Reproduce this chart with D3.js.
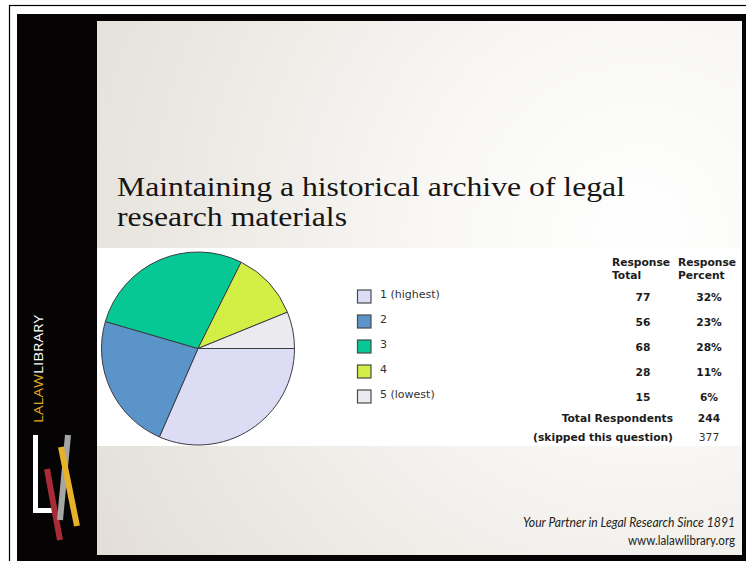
<!DOCTYPE html>
<html>
<head>
<meta charset="utf-8">
<script src="https://cdn.jsdelivr.net/npm/d3@7"></script>
<style>
  html, body { margin: 0; padding: 0; background: #ffffff; }
  svg { display: block; }
</style>
</head>
<body>
<svg id="chart" width="746" height="561"></svg>
<script>
// ---- Data ----
const titleLines = ["Maintaining a historical archive of legal", "research materials"];
const categories = ["1 (highest)", "2", "3", "4", "5 (lowest)"];
const responseTotals = [77, 56, 68, 28, 15];
const responsePercents = ["32%", "23%", "28%", "11%", "6%"];
const sliceColors = ["#dcdcf4", "#5b94c8", "#05c895", "#d3ee45", "#ebebef"];
const headerTotal = ["Response", "Total"];
const headerPercent = ["Response", "Percent"];
const summaryLabels = ["Total Respondents", "(skipped this question)"];
const summaryValues = ["244", "377"];
const footerLines = ["Your Partner in Legal Research Since 1891", "www.lalawlibrary.org"];

const svg = d3.select("#chart");
const defs = svg.append("defs");

// ---- Frame ----
svg.append("rect").attr("x", 9.5).attr("y", 5.5).attr("width", 760).attr("height", 600)
  .attr("fill", "none").attr("stroke", "#000").attr("stroke-width", 1.2);
svg.append("rect").attr("x", 17).attr("y", 14).attr("width", 740).attr("height", 560).attr("fill", "#050303");

const grad = defs.append("radialGradient").attr("id", "slideGrad")
  .attr("gradientUnits", "userSpaceOnUse")
  .attr("cx", 640).attr("cy", 230).attr("r", 620);
grad.append("stop").attr("offset", "0").attr("stop-color", "#ffffff");
grad.append("stop").attr("offset", "0.35").attr("stop-color", "#f8f7f4");
grad.append("stop").attr("offset", "1").attr("stop-color", "#e3dfd8");

svg.append("rect").attr("x", 97).attr("y", 21).attr("width", 645).attr("height", 534)
  .attr("fill", "url(#slideGrad)");

// ---- Title ----
const title = svg.append("g").attr("font-family", "'Liberation Serif', 'DejaVu Serif', serif")
  .attr("fill", "#151515");
title.append("text").attr("x", 117).attr("y", 196).attr("font-size", 28)
  .attr("textLength", 508).attr("lengthAdjust", "spacingAndGlyphs").text(titleLines[0]);
title.append("text").attr("x", 117).attr("y", 226).attr("font-size", 28)
  .attr("textLength", 230).attr("lengthAdjust", "spacingAndGlyphs").text(titleLines[1]);

// ---- White chart panel ----
svg.append("rect").attr("x", 97).attr("y", 248).attr("width", 644).attr("height", 198).attr("fill", "#ffffff");

// ---- Pie ----
const pie = d3.pie().sort(null).value(d => d)
  .startAngle(Math.PI / 2).endAngle(Math.PI / 2 + 2 * Math.PI);
const arc = d3.arc().innerRadius(0).outerRadius(96.5);
const pieG = svg.append("g").attr("transform", "translate(198,348.5)");
pieG.selectAll("path").data(pie(responseTotals)).join("path")
  .attr("d", arc)
  .attr("fill", (d, i) => sliceColors[i])
  .attr("stroke", "#3c3c44").attr("stroke-width", 1);

// ---- Legend ----
const rowY = d3.scalePoint().domain(d3.range(categories.length)).range([0, 100]);
const legend = svg.append("g").attr("font-family", "'DejaVu Sans', Verdana, sans-serif");
legend.selectAll("rect").data(categories).join("rect")
  .attr("x", 357.5).attr("y", (d, i) => 290 + rowY(i))
  .attr("width", 13.5).attr("height", 13)
  .attr("fill", (d, i) => sliceColors[i])
  .attr("stroke", "#4a4a4a").attr("stroke-width", 1.2);
legend.selectAll("text").data(categories).join("text")
  .attr("x", 380).attr("y", (d, i) => 298 + rowY(i))
  .attr("font-size", 11).attr("fill", "#333")
  .text(d => d);

// ---- Table ----
const table = svg.append("g").attr("font-family", "'DejaVu Sans', Verdana, sans-serif")
  .attr("font-size", 10.7).attr("fill", "#1c1c1c");
headerTotal.forEach((t, i) => {
  table.append("text").attr("x", 612).attr("y", 266 + i * 13).attr("font-weight", "bold").text(t);
});
headerPercent.forEach((t, i) => {
  table.append("text").attr("x", 678).attr("y", 266 + i * 13).attr("font-weight", "bold").text(t);
});
table.selectAll("text.tot").data(responseTotals).join("text").attr("class", "tot")
  .attr("x", 643).attr("y", (d, i) => 300.5 + rowY(i))
  .attr("text-anchor", "middle").attr("font-weight", "bold").text(d => d);
table.selectAll("text.pct").data(responsePercents).join("text").attr("class", "pct")
  .attr("x", 709).attr("y", (d, i) => 300.5 + rowY(i))
  .attr("text-anchor", "middle").attr("font-weight", "bold").text(d => d);
summaryLabels.forEach((t, i) => {
  table.append("text").attr("x", 673).attr("y", 422 + i * 18.5)
    .attr("text-anchor", "end").attr("font-weight", "bold").text(t);
  table.append("text").attr("x", 709).attr("y", 422 + i * 18.5)
    .attr("text-anchor", "middle").attr("font-weight", i === 0 ? "bold" : "normal")
    .attr("fill", i === 0 ? "#1c1c1c" : "#333").text(summaryValues[i]);
});

// ---- Footer ----
const footer = svg.append("g").attr("font-family", "Lato, 'Open Sans', sans-serif").attr("fill", "#222");
footer.append("text").attr("x", 735).attr("y", 527).attr("text-anchor", "end")
  .attr("font-size", 12.5).attr("font-style", "italic")
  .attr("textLength", 212).attr("lengthAdjust", "spacingAndGlyphs").text(footerLines[0]);
footer.append("text").attr("x", 735).attr("y", 545).attr("text-anchor", "end")
  .attr("font-size", 12.5)
  .attr("textLength", 107).attr("lengthAdjust", "spacingAndGlyphs").text(footerLines[1]);

// ---- Side logo ----
const side = svg.append("g");
const sideText = side.append("text")
  .attr("transform", "translate(43,423) rotate(-90)")
  .attr("font-family", "'Open Sans', 'DejaVu Sans', sans-serif")
  .attr("font-size", 12.5)
  .attr("textLength", 108).attr("lengthAdjust", "spacingAndGlyphs");
sideText.append("tspan").attr("fill", "#e2a91e").text("LALAW");
sideText.append("tspan").attr("fill", "#ffffff").text("LIBRARY");

side.append("path").attr("d", "M35.5,435 V510.5 H53").attr("fill", "none")
  .attr("stroke", "#ffffff").attr("stroke-width", 5);
side.append("line").attr("x1", 47).attr("y1", 469).attr("x2", 60).attr("y2", 540)
  .attr("stroke", "#a72c38").attr("stroke-width", 6);
side.append("line").attr("x1", 68).attr("y1", 435).attr("x2", 60).attr("y2", 520)
  .attr("stroke", "#a5a5a5").attr("stroke-width", 6);
side.append("line").attr("x1", 61).attr("y1", 447).attr("x2", 77).attr("y2", 526)
  .attr("stroke", "#e8b12a").attr("stroke-width", 6);
</script>
</body>
</html>
